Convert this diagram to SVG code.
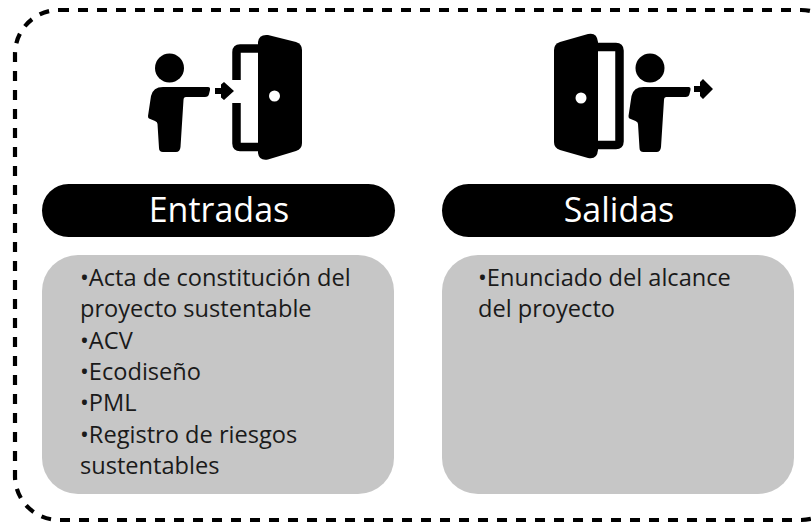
<svg xmlns="http://www.w3.org/2000/svg" width="811" height="523" viewBox="0 0 811 523">
<style>
.t{font-family:"Open Sans","Noto Sans","Liberation Sans",sans-serif;fill:#1a1a1a;font-size:23.600px}
.h{font-family:"Open Sans","Noto Sans","Liberation Sans",sans-serif;fill:#fff;font-size:34px;text-anchor:middle}
.k{fill:#000}
.box{fill:#c6c6c6}
.frame{fill:none;stroke:#000;stroke-width:8.500}
.knob{fill:#fff}
</style>
<defs>
<g id="person">
<circle cx="39.500" cy="48" r="14.500" class="k"/>
<path class="k" d="M18 96 L21 76 Q23 67 33 67 L78 67 Q80.500 67 80 70 L79 74 Q78.500 77 75 77 L56 77 Q53.500 77 53.500 80 L50.500 127 Q50 132 46 132 L33 132 Q29 132 29 128 L27.500 104 Q27.500 102 25 101 L19 98.500 Q18 98 18 96Z"/>
</g>
</defs>
<g id="border"><rect x="15" y="10" width="830" height="510" rx="44" ry="44" fill="none" stroke="#000" stroke-width="4.200" stroke-dasharray="10 9"/></g>
<g id="connectors"></g>
<g id="icon-entrada">
<use href="#person" transform="translate(130 20)"/>
<path class="k" d="M215 88 H221 V84.500 L224 82 L234 91 L224 100 L221 97.500 V94 H215Z"/>
<path class="frame" d="M236.500 80 V52 Q236.500 48.500 240 48.500 H262 M262 147 H240 Q236.500 147 236.500 143.500 V103"/>
<path class="k" d="M258 42 Q259 34 268 35 L296 42 Q302 44 302 50 L302 143 Q302 149 296 151 L268 159.500 Q259 161 258 153Z"/>
<circle cx="274.500" cy="96" r="5.500" class="knob"/>
</g>
<g id="icon-salida">
<use href="#person" transform="translate(610.500 20)"/>
<path class="k" d="M694 86 H700 V82 L703 79 L713 89 L703 99 L700 96 V92 H694Z"/>
<path class="frame" d="M595 47 H616 Q619.500 47 619.500 50.500 V141.500 Q619.500 145 616 145 H595"/>
<path class="k" d="M554 50 Q554 44 560 42 L588 34 Q597 32 598 42 L598 150 Q597 160 588 158 L560 150 Q554 148 554 142Z"/>
<circle cx="581" cy="98" r="5.500" class="knob"/>
</g>
<g id="node-entradas">
<rect x="42" y="184" width="353" height="53" rx="26.500" class="k"/>
<text class="h" x="219" y="222">Entradas</text>
</g>
<g id="node-salidas">
<rect x="442" y="184" width="354" height="53" rx="26.500" class="k"/>
<text class="h" x="619" y="222">Salidas</text>
</g>
<g id="box-entradas">
<rect x="42" y="255" width="352" height="239" rx="36" class="box"/>
<text class="t" x="80" y="286">•Acta de constitución del</text>
<text class="t" x="80" y="317">proyecto sustentable</text>
<text class="t" x="80" y="349">•ACV</text>
<text class="t" x="80" y="380">•Ecodiseño</text>
<text class="t" x="80" y="411">•PML</text>
<text class="t" x="80" y="443">•Registro de riesgos</text>
<text class="t" x="80" y="474">sustentables</text>
</g>
<g id="box-salidas">
<rect x="442" y="255" width="352" height="239" rx="36" class="box"/>
<text class="t" x="478" y="286">•Enunciado del alcance</text>
<text class="t" x="478" y="317">del proyecto</text>
</g>
</svg>
